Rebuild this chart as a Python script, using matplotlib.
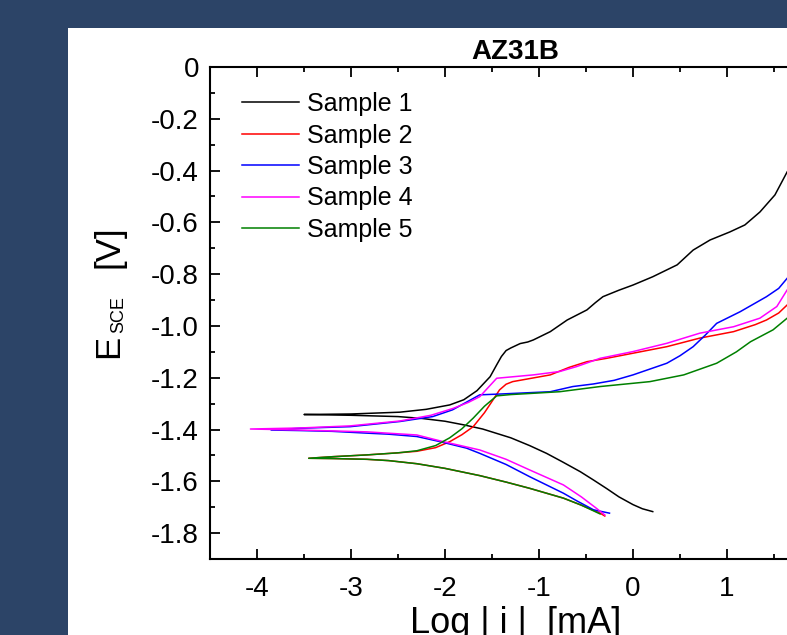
import matplotlib.pyplot as plt
from matplotlib.patches import Rectangle
from matplotlib.ticker import MultipleLocator

plt.rcParams['font.family'] = ['Liberation Sans', 'DejaVu Sans']

# polarisation curves (log|i| in mA, E vs SCE in V)
# each one runs from the cathodic end, through Ecorr, up the anodic branch
s1_logi = [0.21, 0.1, 0.0, -0.15, -0.28, -0.42, -0.56, -0.75, -0.92, -1.1, -1.3, -1.6,
           -1.8, -2.0, -2.25, -2.5, -3.0, -3.5,
           -3.0, -2.48, -2.2, -1.95, -1.8, -1.66, -1.52, -1.45, -1.40, -1.35, -1.30,
           -1.20, -1.12, -1.06, -0.88, -0.70, -0.49, -0.40, -0.32, -0.15, 0.0, 0.21,
           0.47, 0.64, 0.82, 1.03, 1.19, 1.35, 1.51, 1.64]
s1_e = [-1.717, -1.706, -1.690, -1.660, -1.628, -1.595, -1.563, -1.525, -1.492, -1.462, -1.432, -1.398,
        -1.382, -1.368, -1.357, -1.350, -1.345, -1.342,
        -1.340, -1.333, -1.322, -1.305, -1.285, -1.250, -1.196, -1.150, -1.118, -1.095, -1.085,
        -1.068, -1.062, -1.054, -1.022, -0.977, -0.938, -0.910, -0.887, -0.862, -0.842, -0.810,
        -0.764, -0.707, -0.668, -0.637, -0.610, -0.560, -0.494, -0.405]

s2_logi = [-0.30, -0.35, -0.55, -0.74, -1.10, -1.35, -1.63, -2.0, -2.30, -2.6, -2.83, -3.2, -3.45,
           -3.2, -2.83, -2.5, -2.30, -2.1, -1.95, -1.82, -1.70, -1.58, -1.49, -1.42, -1.35,
           -1.28, -0.88, -0.68, -0.49, -0.28, 0.36, 0.71, 1.07, 1.30, 1.42, 1.55, 1.64]
s2_e = [-1.734, -1.723, -1.692, -1.665, -1.627, -1.603, -1.578, -1.550, -1.532, -1.520, -1.515, -1.512, -1.511,
        -1.505, -1.498, -1.490, -1.484, -1.470, -1.447, -1.420, -1.389, -1.335, -1.286, -1.247, -1.225,
        -1.215, -1.189, -1.160, -1.138, -1.125, -1.080, -1.047, -1.022, -0.995, -0.977, -0.950, -0.919]

s3_logi = [-0.25, -0.42, -0.6, -0.74, -1.10, -1.35, -1.63, -1.77, -2.05, -2.30, -2.6, -2.83, -3.2,
           -3.54, -3.85,
           -3.54, -3.01, -2.48, -2.13, -1.92, -1.75, -1.63, -1.42, -0.88, -0.64, -0.42, -0.2,
           0.0, 0.36, 0.5, 0.64, 0.77, 0.89, 1.14, 1.42, 1.55, 1.64]
s3_e = [-1.723, -1.710, -1.675, -1.646, -1.582, -1.535, -1.492, -1.472, -1.447, -1.427, -1.418, -1.414, -1.407,
        -1.404, -1.402,
        -1.395, -1.389, -1.369, -1.350, -1.324, -1.290, -1.266, -1.263, -1.254, -1.234, -1.224, -1.210,
        -1.189, -1.144, -1.115, -1.080, -1.035, -0.990, -0.945, -0.887, -0.855, -0.816]

s4_logi = [-0.30, -0.39, -0.55, -0.74, -1.10, -1.35, -1.63, -2.05, -2.30, -2.83, -3.54, -4.07,
           -3.54, -3.01, -2.48, -2.15, -1.91, -1.75, -1.63, -1.45, -1.06, -0.78, -0.60, -0.35,
           0.0, 0.36, 0.71, 1.07, 1.35, 1.53, 1.64]
s4_e = [-1.730, -1.704, -1.660, -1.614, -1.556, -1.515, -1.479, -1.444, -1.421, -1.409, -1.402, -1.398,
        -1.394, -1.386, -1.367, -1.345, -1.318, -1.295, -1.273, -1.202, -1.189, -1.176, -1.157, -1.125,
        -1.099, -1.067, -1.028, -1.003, -0.970, -0.925, -0.861]

s5_logi = [-0.35, -0.55, -0.74, -1.10, -1.35, -1.63, -2.0, -2.30, -2.6, -2.83, -3.2, -3.45,
           -3.2, -2.83, -2.5, -2.30, -2.1, -1.95, -1.82, -1.70, -1.58, -1.45, -1.3, -1.06,
           -0.78, -0.35, 0.18, 0.54, 0.89, 1.1, 1.25, 1.49, 1.64]
s5_e = [-1.726, -1.692, -1.665, -1.627, -1.603, -1.578, -1.550, -1.532, -1.520, -1.515, -1.512, -1.511,
        -1.505, -1.498, -1.490, -1.482, -1.462, -1.432, -1.397, -1.356, -1.310, -1.270, -1.265, -1.260,
        -1.254, -1.234, -1.215, -1.189, -1.144, -1.100, -1.061, -1.015, -0.970]

labels = ['Sample 1', 'Sample 2', 'Sample 3', 'Sample 4', 'Sample 5']
colors = ['black', 'red', 'blue', 'magenta', 'green']
x_ticks = [-4, -3, -2, -1, 0, 1]
y_ticks = [0, -0.2, -0.4, -0.6, -0.8, -1.0, -1.2, -1.4, -1.6, -1.8]
y_ticklabels = ['0', '-0.2', '-0.4', '-0.6', '-0.8', '-1.0', '-1.2', '-1.4', '-1.6', '-1.8']

W, H = 787, 635
fig = plt.figure(figsize=(W / 100, H / 100), dpi=100)
fig.patch.set_facecolor('#2c4467')
fig.add_artist(Rectangle((68 / W, 0), 1, 1 - 28 / H, transform=fig.transFigure,
                         facecolor='white', edgecolor='none', zorder=-10))

ax = fig.add_axes([210 / W, 76 / H, 611 / W, 492 / H])
ax.set_facecolor('white')

curves = [(s1_logi, s1_e), (s2_logi, s2_e), (s3_logi, s3_e), (s4_logi, s4_e), (s5_logi, s5_e)]
for (xs, ys), lab, c in zip(curves, labels, colors):
    ax.plot(xs, ys, color=c, lw=1.1, label=lab)

ax.set_xlim(-4.5, 2)
ax.set_ylim(-1.9, 0)
ax.set_xticks(x_ticks)
ax.set_xticklabels([str(t) for t in x_ticks])
ax.set_yticks(y_ticks)
ax.set_yticklabels(y_ticklabels)
ax.xaxis.set_minor_locator(MultipleLocator(0.5))
ax.yaxis.set_minor_locator(MultipleLocator(0.1))
ax.tick_params(which='both', direction='in', top=True, right=True, width=1.3)
ax.tick_params(which='major', length=7, labelsize=20)
ax.tick_params(which='minor', length=3.5)
ax.tick_params(axis='x', pad=12)
ax.tick_params(axis='y', pad=8)
for sp in ax.spines.values():
    sp.set_linewidth(1.5)

ax.set_title('AZ31B', fontsize=20, fontweight='bold', pad=6)

ax.legend(loc='upper left', bbox_to_anchor=(242 / W, 1 - 92 / H), bbox_transform=fig.transFigure,
          frameon=False, fontsize=18, handlelength=2.3, handletextpad=0.3,
          labelspacing=0.3, borderpad=0, borderaxespad=0)

# y label built from pieces so the subscript can be small
fig.text(118 / W, 1 - 358 / H, 'E', fontsize=25, rotation=90, rotation_mode='anchor',
         ha='left', va='baseline')
fig.text(123 / W, 1 - 333 / H, 'SCE', fontsize=13, rotation=90, rotation_mode='anchor',
         ha='left', va='baseline')
fig.text(118 / W, 1 - 268 / H, '[V]', fontsize=25, rotation=90, rotation_mode='anchor',
         ha='left', va='baseline')

fig.text(516 / W, 1 - 606 / H, 'Log | i |  [mA]', fontsize=26, ha='center', va='top')

fig.savefig('out.png', dpi=100, facecolor=fig.get_facecolor())
